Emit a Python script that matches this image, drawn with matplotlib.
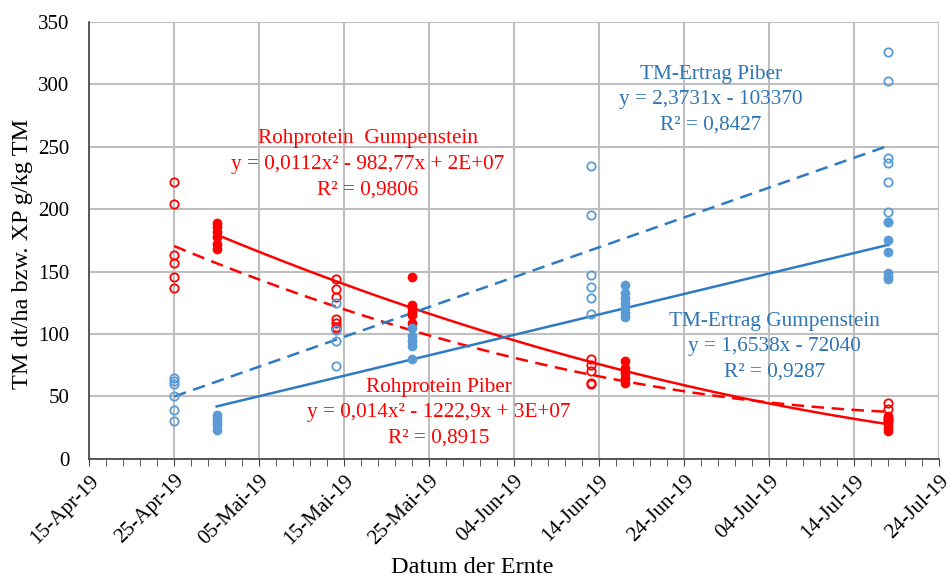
import numpy as np
import matplotlib
matplotlib.use('Agg')
import matplotlib.pyplot as plt
import matplotlib.dates as mdates
from datetime import date

# harvest dates
d_piber = [date(2019, 4, 25), date(2019, 5, 14), date(2019, 6, 13), date(2019, 7, 18)]
d_gump = [date(2019, 4, 30), date(2019, 5, 23), date(2019, 6, 17), date(2019, 7, 18)]

# Rohprotein (XP g/kg TM)
xp_piber = [[222, 204, 163, 157, 146, 137],
            [144, 136, 130, 112, 109, 106, 104],
            [80, 75, 70, 61, 60],
            [45, 40, 33, 30]]
xp_gump = [[189, 186, 182, 178, 172, 168],
           [146, 123, 121, 118, 115, 109],
           [78, 73, 69, 65, 61],
           [34, 31, 28, 25, 22]]

# TM-Ertrag (dt/ha)
tm_piber = [[65, 62, 60, 50, 39, 30],
            [125, 103, 94, 74],
            [235, 195, 147, 138, 129, 116],
            [326, 303, 241, 237, 222, 198]]
tm_gump = [[35, 33, 30, 27, 23],
           [105, 98, 94, 90, 80],
           [139, 133, 129, 125, 121, 117, 114],
           [190, 190, 175, 166, 149, 146, 144]]

xtick_labels = ['15-Apr-19', '25-Apr-19', '05-Mai-19', '15-Mai-19', '25-Mai-19',
                '04-Jun-19', '14-Jun-19', '24-Jun-19', '04-Jul-19', '14-Jul-19', '24-Jul-19']

RED = '#FF0000'
BLUE_M = '#5B9BD5'
BLUE_L = '#2E7BC4'
BLUE_T = '#2E75B6'

plt.rcParams['font.family'] = ['Liberation Serif', 'DejaVu Serif']


def flatten(dates, groups):
    xs, ys = [], []
    for d, g in zip(dates, groups):
        for v in g:
            xs.append(mdates.date2num(d))
            ys.append(v)
    return np.array(xs), np.array(ys)


def trend(ax, xs, ys, deg, color, ls):
    x0 = xs.min()
    coef = np.polyfit(xs - x0, ys, deg)
    xx = np.linspace(xs.min(), xs.max(), 200)
    ax.plot(xx, np.polyval(coef, xx - x0), color=color, ls=ls, lw=1.8,
            dashes=(5, 3) if ls == '--' else (None, None), zorder=3)


fig = plt.figure(figsize=(9.48, 5.8), dpi=100)
ax = fig.add_axes([0.094, 0.209, 0.897, 0.753])

x, y = flatten(d_piber, xp_piber)
ax.plot(x, y, 'o', mfc='none', mec=RED, ms=6, mew=1.3, zorder=4)
trend(ax, x, y, 2, RED, '--')
x, y = flatten(d_gump, xp_gump)
ax.plot(x, y, 'o', color=RED, ms=6, zorder=4)
trend(ax, x, y, 2, RED, '-')
x, y = flatten(d_piber, tm_piber)
ax.plot(x, y, 'o', mfc='none', mec=BLUE_M, ms=6, mew=1.3, zorder=4)
trend(ax, x, y, 1, BLUE_L, '--')
x, y = flatten(d_gump, tm_gump)
ax.plot(x, y, 'o', color=BLUE_M, ms=6, zorder=4)
trend(ax, x, y, 1, BLUE_L, '-')

# axes
start = mdates.date2num(date(2019, 4, 15))
ax.set_xlim(start, start + 100)
ax.set_ylim(0, 350)
ax.set_xticks([start + 10 * i for i in range(11)])
ax.set_xticklabels(xtick_labels, rotation=45, ha='right', rotation_mode='anchor', fontsize=15.2)
ax.set_xticks([start + 2 * i for i in range(51)], minor=True)
ax.set_yticks(range(0, 351, 50))
ax.tick_params(axis='y', length=0, labelsize=15, pad=14)
ax.tick_params(axis='x', which='both', direction='out', length=5, color='#404040', pad=4)
ax.grid(True, color='#BFBFBF', lw=1.5, zorder=0)
ax.set_axisbelow(True)
for s in ['top', 'right']:
    ax.spines[s].set_visible(False)
for s in ['left', 'bottom']:
    ax.spines[s].set_color('#404040')
    ax.spines[s].set_linewidth(1.2)

ax.set_xlabel('Datum der Ernte', fontsize=17.5)
ax.set_ylabel('TM dt/ha bzw. XP g/kg TM', fontsize=17.5)
ax.xaxis.set_label_coords(0.45, -0.225)
ax.yaxis.set_label_coords(-0.066, 0.47)

# annotations
kw = dict(ha='center', va='center', fontsize=15.3, linespacing=1.45, zorder=5)
ax.text(start + 32.8, 236,
        'Rohprotein  Gumpenstein\ny = 0,0112x² - 982,77x + 2E+07\nR² = 0,9806', color=RED, **kw)
ax.text(start + 41.1, 37,
        'Rohprotein Piber\ny = 0,014x² - 1222,9x + 3E+07\nR² = 0,8915', color=RED, **kw)
ax.text(start + 73.1, 288,
        'TM-Ertrag Piber\ny = 2,3731x - 103370\nR² = 0,8427', color=BLUE_T, **kw)
ax.text(start + 80.6, 89.7,
        'TM-Ertrag Gumpenstein\ny = 1,6538x - 72040\nR² = 0,9287', color=BLUE_T, **kw)

fig.savefig('out.png', dpi=100)
